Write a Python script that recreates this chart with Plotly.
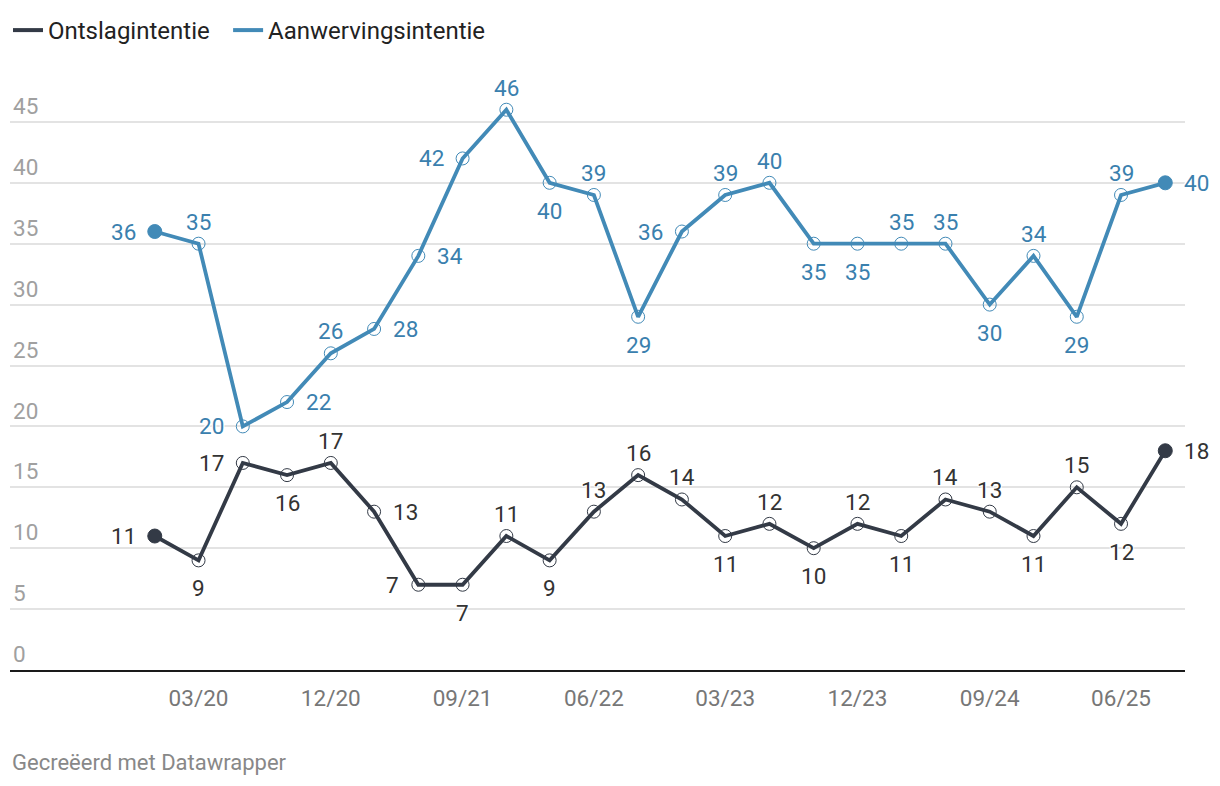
import plotly.graph_objects as go

quarters = ["2019-12-01", "2020-03-01", "2020-06-01", "2020-09-01", "2020-12-01", "2021-03-01",
            "2021-06-01", "2021-09-01", "2021-12-01", "2022-03-01", "2022-06-01", "2022-09-01",
            "2022-12-01", "2023-03-01", "2023-06-01", "2023-09-01", "2023-12-01", "2024-03-01",
            "2024-06-01", "2024-09-01", "2024-12-01", "2025-03-01", "2025-06-01", "2025-09-01"]

ontslag = [11, 9, 17, 16, 17, 13, 7, 7, 11, 9, 13, 16, 14, 11, 12, 10, 12, 11, 14, 13, 11, 15, 12, 18]
aanwerving = [36, 35, 20, 22, 26, 28, 34, 42, 46, 40, 39, 29, 36, 39, 40, 35, 35, 35, 35, 30, 34, 29, 39, 40]

# label placement relative to each point: T=top, B=bottom, L=left, R=right
ontslag_pos = ["L", "B", "L", "B", "T", "R", "L", "B", "T", "B", "T", "T",
               "T", "B", "T", "B", "T", "B", "T", "T", "B", "T", "B", "R"]
aanwerving_pos = ["L", "T", "L", "R", "T", "R", "R", "L", "T", "B", "T", "B",
                  "L", "T", "T", "B", "B", "T", "T", "B", "T", "B", "T", "R"]

tick_vals = ["2020-03-01", "2020-12-01", "2021-09-01", "2022-06-01", "2023-03-01", "2023-12-01",
             "2024-09-01", "2025-06-01"]
tick_text = ["03/20", "12/20", "09/21", "06/22", "03/23", "12/23", "09/24", "06/25"]
y_ticks = [0, 5, 10, 15, 20, 25, 30, 35, 40, 45]

DARK = "#333a46"
DARK_TXT = "#333333"
BLUE = "#428ab7"
BLUE_TXT = "#3a80ae"
FONT = "Roboto"
HALO = "-1px -1px 0 white, 1px -1px 0 white, -1px 1px 0 white, 1px 1px 0 white, 0 0 3px white"

SHIFTS = {
    "T": dict(xanchor="center", yanchor="middle", xshift=0, yshift=22),
    "B": dict(xanchor="center", yanchor="middle", xshift=0, yshift=-28),
    "L": dict(xanchor="right", yanchor="middle", xshift=-17, yshift=0),
    "R": dict(xanchor="left", yanchor="middle", xshift=17, yshift=0),
}


def marker_style(n, color):
    symbols = ["circle-open"] * n
    symbols[0] = "circle"
    symbols[-1] = "circle"
    sizes = [13] * n
    sizes[0] = 14
    sizes[-1] = 14
    return dict(color=color, symbol=symbols, size=sizes, line=dict(color=color, width=1), opacity=1)


fig = go.Figure()
annotations = []

series = [("Ontslagintentie", ontslag, ontslag_pos, DARK, DARK_TXT, "legend"),
          ("Aanwervingsintentie", aanwerving, aanwerving_pos, BLUE, BLUE_TXT, "legend2")]

for name, vals, pos, col, tcol, leg in series:
    fig.add_trace(go.Scatter(
        x=quarters, y=vals, mode="lines+markers",
        line=dict(color=col, width=3.8),
        marker=marker_style(len(vals), col),
        showlegend=False, hoverinfo="skip", cliponaxis=False,
    ))
    fig.add_trace(go.Scatter(
        x=[None], y=[None], mode="lines", name=name, legend=leg,
        line=dict(color=col, width=4),
    ))
    for xv, yv, p in zip(quarters, vals, pos):
        annotations.append(dict(
            x=xv, y=yv, xref="x", yref="y", text=str(yv), showarrow=False,
            font=dict(family=FONT, size=22.5, color=tcol, shadow=HALO),
            **SHIFTS[p]))

annotations.append(dict(text="Gecreëerd met Datawrapper", xref="paper", yref="paper",
                        x=0, y=-0.1527, xanchor="left", yanchor="middle", showarrow=False,
                        font=dict(family=FONT, size=22, color="#888")))

legend_common = dict(orientation="h", y=1.0, xref="container", yref="container",
                     xanchor="left", yanchor="top", font=dict(family=FONT, size=24, color="#222"),
                     itemwidth=30, bgcolor="rgba(0,0,0,0)")

fig.update_layout(
    width=1212, height=778,
    margin=dict(l=2, r=35, t=53, b=116),
    paper_bgcolor="white", plot_bgcolor="white",
    font=dict(family=FONT, size=22, color="#333"),
    legend=dict(x=0, **legend_common),
    legend2=dict(x=0.1816, **legend_common),
    xaxis=dict(type="date", range=["2019-02-03", "2025-10-12"],
               tickvals=tick_vals, ticktext=tick_text, showgrid=False,
               showline=True, linecolor="#1a1a1a", linewidth=2,
               ticks="", ticklabelstandoff=7,
               tickfont=dict(family=FONT, size=22.5, color="#777"),
               zeroline=False),
    yaxis=dict(range=[0, 50], tickvals=y_ticks, showgrid=True, gridcolor="#e3e3e3", gridwidth=1.5,
               zeroline=False, showline=False, ticks="",
               ticklabelposition="inside top",
               tickfont=dict(family=FONT, size=22.5, color="#a0a0a0")),
    annotations=annotations,
)

fig.write_html("out.html")
